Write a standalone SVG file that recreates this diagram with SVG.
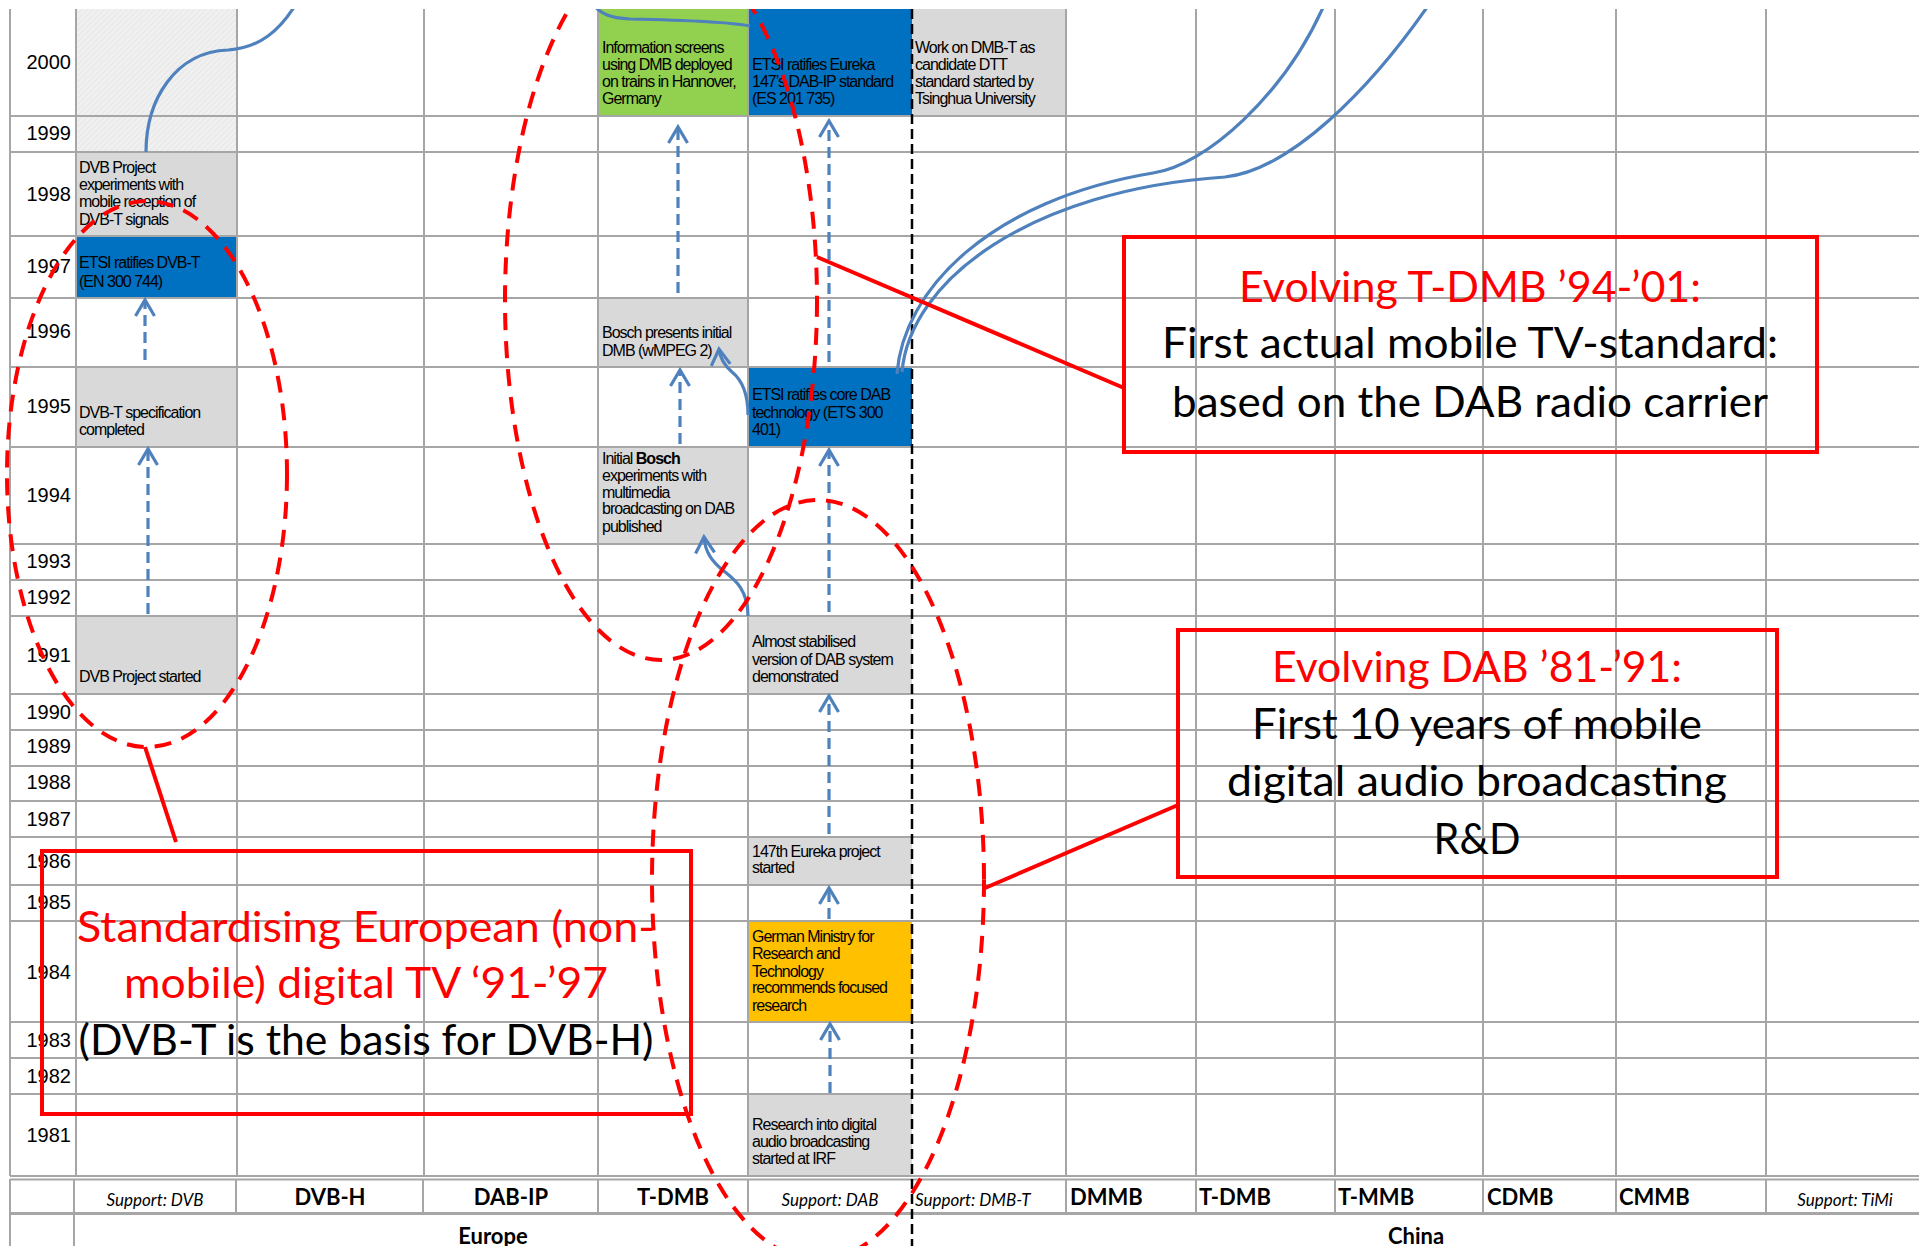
<svg xmlns="http://www.w3.org/2000/svg" width="1919" height="1246" viewBox="0 0 1919 1246">
<style>
.bg{fill:#ffffff}
.grid line{stroke:#a6a6a6;stroke-width:2}
.yr{font-family:"Liberation Sans",Arial,sans-serif;font-size:20px;fill:#000;text-anchor:end}
.nt{font-family:"Liberation Sans",Arial,sans-serif;font-size:16px;fill:#000;letter-spacing:-1px}
.gray{fill:#d9d9d9}
.blue{fill:#0070c0}
.green{fill:#92d050}
.orange{fill:#ffc000}
.hdr{font-family:Lato,"Open Sans",sans-serif;font-size:22px;font-weight:bold;fill:#000}
.sup{font-family:Lato,"Open Sans",sans-serif;font-size:17px;font-style:italic;fill:#000}
.conn{fill:none;stroke:#4f81bd;stroke-width:3.2}
.dash{stroke-dasharray:11 6}
.red{fill:none;stroke:#ff0000;stroke-width:4}
.reddash{fill:none;stroke:#ff0000;stroke-width:4;stroke-dasharray:17 11}
.big{font-family:Lato,"Open Sans",sans-serif;font-size:42px;text-anchor:middle}
.rt{fill:#ff0000}
.bt{fill:#000}
</style>
<defs>
<marker id="chev" markerUnits="userSpaceOnUse" markerWidth="40" markerHeight="40" viewBox="-20 -20 40 40" refX="0" refY="0" orient="auto" overflow="visible">
<path d="M-16,-9.5 L0,0 L-16,9.5" fill="none" stroke="#4f81bd" stroke-width="3.2"/>
</marker>
<pattern id="hatch" width="4" height="4" patternUnits="userSpaceOnUse" patternTransform="rotate(45)">
<rect width="4" height="4" fill="#f0f0f0"/>
<line x1="0" y1="0" x2="0" y2="4" stroke="#e4e4e4" stroke-width="1.5"/>
</pattern>
<clipPath id="clipTop"><rect x="0" y="9" width="1919" height="1237"/></clipPath>
</defs>
<rect class="bg" x="0" y="0" width="1919" height="1246"/>

<g id="cells">
<rect x="76" y="9" width="161" height="143" fill="url(#hatch)"/>
<rect class="gray" x="76" y="152" width="161" height="84"/>
<rect class="blue" x="76" y="236" width="161" height="62"/>
<rect class="gray" x="76" y="367" width="161" height="80"/>
<rect class="gray" x="76" y="616" width="161" height="78"/>
<rect class="green" x="598" y="9" width="150" height="107"/>
<rect class="blue" x="748" y="9" width="164" height="107"/>
<rect class="gray" x="912" y="9" width="154" height="107"/>
<rect class="gray" x="598" y="298" width="150" height="69"/>
<rect class="blue" x="748" y="367" width="164" height="80"/>
<rect class="gray" x="598" y="447" width="150" height="97"/>
<rect class="gray" x="748" y="616" width="164" height="78"/>
<rect class="gray" x="748" y="837" width="164" height="48"/>
<rect class="orange" x="748" y="921" width="164" height="101"/>
<rect class="gray" x="748" y="1094" width="164" height="82"/>
</g>

<g id="grid" class="grid">
<line x1="10" y1="116" x2="1919" y2="116"/>
<line x1="10" y1="152" x2="1919" y2="152"/>
<line x1="10" y1="236" x2="1919" y2="236"/>
<line x1="10" y1="298" x2="1919" y2="298"/>
<line x1="10" y1="367" x2="1919" y2="367"/>
<line x1="10" y1="447" x2="1919" y2="447"/>
<line x1="10" y1="544" x2="1919" y2="544"/>
<line x1="10" y1="580" x2="1919" y2="580"/>
<line x1="10" y1="616" x2="1919" y2="616"/>
<line x1="10" y1="694" x2="1919" y2="694"/>
<line x1="10" y1="730" x2="1919" y2="730"/>
<line x1="10" y1="766" x2="1919" y2="766"/>
<line x1="10" y1="801" x2="1919" y2="801"/>
<line x1="10" y1="837" x2="1919" y2="837"/>
<line x1="10" y1="885" x2="1919" y2="885"/>
<line x1="10" y1="921" x2="1919" y2="921"/>
<line x1="10" y1="1022" x2="1919" y2="1022"/>
<line x1="10" y1="1058" x2="1919" y2="1058"/>
<line x1="10" y1="1094" x2="1919" y2="1094"/>
<line x1="10" y1="1176" x2="1919" y2="1176"/>
<line x1="10" y1="1179.5" x2="1919" y2="1179.5"/>
<line x1="10" y1="1213.5" x2="1919" y2="1213.5" style="stroke-width:3"/>
<line x1="10" y1="9" x2="10" y2="1176"/>
<line x1="76" y1="9" x2="76" y2="1176"/>
<line x1="237" y1="9" x2="237" y2="1176"/>
<line x1="424" y1="9" x2="424" y2="1176"/>
<line x1="598" y1="9" x2="598" y2="1176"/>
<line x1="748" y1="9" x2="748" y2="1176"/>
<line x1="1066" y1="9" x2="1066" y2="1176"/>
<line x1="1196" y1="9" x2="1196" y2="1176"/>
<line x1="1335" y1="9" x2="1335" y2="1176"/>
<line x1="1483" y1="9" x2="1483" y2="1176"/>
<line x1="1616" y1="9" x2="1616" y2="1176"/>
<line x1="1766" y1="9" x2="1766" y2="1176"/>
<line x1="10" y1="1179" x2="10" y2="1246"/>
<line x1="74" y1="1179" x2="74" y2="1246"/>
<line x1="236" y1="1179" x2="236" y2="1213"/>
<line x1="423" y1="1179" x2="423" y2="1213"/>
<line x1="598" y1="1179" x2="598" y2="1213"/>
<line x1="748" y1="1179" x2="748" y2="1213"/>
<line x1="1066" y1="1179" x2="1066" y2="1213"/>
<line x1="1196" y1="1179" x2="1196" y2="1213"/>
<line x1="1335" y1="1179" x2="1335" y2="1213"/>
<line x1="1483" y1="1179" x2="1483" y2="1213"/>
<line x1="1616" y1="1179" x2="1616" y2="1213"/>
<line x1="1766" y1="1179" x2="1766" y2="1213"/>
</g>
<line id="divider" x1="912" y1="9" x2="912" y2="1246" stroke="#000" stroke-width="2.5" stroke-dasharray="10 5"/>

<g id="years">
<text class="yr" x="71" y="69">2000</text>
<text class="yr" x="71" y="140">1999</text>
<text class="yr" x="71" y="201">1998</text>
<text class="yr" x="71" y="273">1997</text>
<text class="yr" x="71" y="338">1996</text>
<text class="yr" x="71" y="413">1995</text>
<text class="yr" x="71" y="502">1994</text>
<text class="yr" x="71" y="568">1993</text>
<text class="yr" x="71" y="604">1992</text>
<text class="yr" x="71" y="662">1991</text>
<text class="yr" x="71" y="719">1990</text>
<text class="yr" x="71" y="753">1989</text>
<text class="yr" x="71" y="789">1988</text>
<text class="yr" x="71" y="826">1987</text>
<text class="yr" x="71" y="868">1986</text>
<text class="yr" x="71" y="909">1985</text>
<text class="yr" x="71" y="979">1984</text>
<text class="yr" x="71" y="1047">1983</text>
<text class="yr" x="71" y="1083">1982</text>
<text class="yr" x="71" y="1142">1981</text>
</g>

<g id="headers">
<text class="sup" x="155" y="1206" text-anchor="middle">Support: DVB</text>
<text class="hdr" x="330" y="1205" text-anchor="middle">DVB-H</text>
<text class="hdr" x="511" y="1205" text-anchor="middle">DAB-IP</text>
<text class="hdr" x="673" y="1205" text-anchor="middle">T-DMB</text>
<text class="sup" x="830" y="1206" text-anchor="middle">Support: DAB</text>
<text class="sup" x="915" y="1206">Support: DMB-T</text>
<text class="hdr" x="1070" y="1205">DMMB</text>
<text class="hdr" x="1199" y="1205">T-DMB</text>
<text class="hdr" x="1338" y="1205">T-MMB</text>
<text class="hdr" x="1487" y="1205">CDMB</text>
<text class="hdr" x="1619" y="1205">CMMB</text>
<text class="sup" x="1845" y="1206" text-anchor="middle">Support: TiMi</text>
<text class="hdr" x="493" y="1244" text-anchor="middle">Europe</text>
<text class="hdr" x="1416" y="1244" text-anchor="middle">China</text>
</g>

<g id="n-dvb-mobile"><text class="nt" x="79" y="173">DVB Project</text><text class="nt" x="79" y="190">experiments with</text><text class="nt" x="79" y="207">mobile reception of</text><text class="nt" x="79" y="225">DVB-T signals</text></g>
<g id="n-etsi-dvbt"><text class="nt" x="79" y="268">ETSI ratifies DVB-T</text><text class="nt" x="79" y="287">(EN 300 744)</text></g>
<g id="n-dvbt-spec"><text class="nt" x="79" y="418">DVB-T specification</text><text class="nt" x="79" y="435">completed</text></g>
<g id="n-dvb-start"><text class="nt" x="79" y="682">DVB Project started</text></g>
<g id="n-info-screens"><text class="nt" x="602" y="53">Information screens</text><text class="nt" x="602" y="70">using DMB deployed</text><text class="nt" x="602" y="87">on trains in Hannover,</text><text class="nt" x="602" y="104">Germany</text></g>
<g id="n-etsi-dabip"><text class="nt" x="752" y="70">ETSI ratifies Eureka</text><text class="nt" x="752" y="87">147’s DAB-IP standard</text><text class="nt" x="752" y="104">(ES 201 735)</text></g>
<g id="n-dmbt-work"><text class="nt" x="915" y="53">Work on DMB-T as</text><text class="nt" x="915" y="70">candidate DTT</text><text class="nt" x="915" y="87">standard started by</text><text class="nt" x="915" y="104">Tsinghua University</text></g>
<g id="n-bosch-dmb"><text class="nt" x="602" y="338">Bosch presents initial</text><text class="nt" x="602" y="356">DMB (wMPEG 2)</text></g>
<g id="n-etsi-dab"><text class="nt" x="752" y="400">ETSI ratifies core DAB</text><text class="nt" x="752" y="418">technology (ETS 300</text><text class="nt" x="752" y="435">401)</text></g>
<g id="n-bosch-initial"><text class="nt" x="602" y="464">Initial <tspan font-weight="bold">Bosch</tspan></text><text class="nt" x="602" y="481">experiments with</text><text class="nt" x="602" y="498">multimedia</text><text class="nt" x="602" y="514">broadcasting on DAB</text><text class="nt" x="602" y="532">published</text></g>
<g id="n-dab-demo"><text class="nt" x="752" y="647">Almost stabilised</text><text class="nt" x="752" y="665">version of DAB system</text><text class="nt" x="752" y="682">demonstrated</text></g>
<g id="n-eureka"><text class="nt" x="752" y="857">147th Eureka project</text><text class="nt" x="752" y="873">started</text></g>
<g id="n-ministry"><text class="nt" x="752" y="942">German Ministry for</text><text class="nt" x="752" y="959">Research and</text><text class="nt" x="752" y="977">Technology</text><text class="nt" x="752" y="993">recommends focused</text><text class="nt" x="752" y="1011">research</text></g>
<g id="n-irf"><text class="nt" x="752" y="1130">Research into digital</text><text class="nt" x="752" y="1147">audio broadcasting</text><text class="nt" x="752" y="1164">started at IRF</text></g>

<g id="connectors" clip-path="url(#clipTop)">
<path class="conn dash" d="M145,360 V300" marker-end="url(#chev)"/>
<path class="conn dash" d="M148,614 V449" marker-end="url(#chev)"/>
<path class="conn dash" d="M678,293 V127" marker-end="url(#chev)"/>
<path class="conn dash" d="M680,444 V370" marker-end="url(#chev)"/>
<path class="conn dash" d="M829,362 V121" marker-end="url(#chev)"/>
<path class="conn dash" d="M829,612 V450" marker-end="url(#chev)"/>
<path class="conn dash" d="M829,834 V696" marker-end="url(#chev)"/>
<path class="conn dash" d="M829,919 V888" marker-end="url(#chev)"/>
<path class="conn dash" d="M830,1093 V1024" marker-end="url(#chev)"/>
<path class="conn" d="M146,152 C146,100 175,52 228,50 C260,48 280,30 296,4"/>
<path class="conn" d="M592,3 C600,14 610,18 630,19 C680,20 730,22 750,26"/>
<path class="conn" d="M748,616 C748,590 735,580 725,572 C712,562 705,552 704,537" marker-end="url(#chev)"/>
<path class="conn" d="M748,415 C748,395 742,380 732,372 C724,365 720,358 719,349" marker-end="url(#chev)"/>
<path class="conn" d="M897,374 C903,290 990,200 1153,173 C1205,166 1285,95 1325,3"/>
<path class="conn" d="M902,372 C910,280 1030,190 1225,177 C1290,170 1370,90 1430,3"/>
</g>

<g id="anno-dvb" clip-path="url(#clipTop)">
<ellipse class="reddash" cx="147" cy="474" rx="140" ry="273"/>
<line class="red" x1="145" y1="747" x2="176" y2="842"/>
<rect class="red" x="42" y="851" width="649" height="263"/>
<text class="big rt" x="366" y="942" textLength="578" lengthAdjust="spacingAndGlyphs">Standardising European (non-</text>
<text class="big rt" x="366" y="998" textLength="484" lengthAdjust="spacingAndGlyphs">mobile) digital TV ‘91-’97</text>
<text class="big bt" x="366" y="1055" textLength="575" lengthAdjust="spacingAndGlyphs">(DVB-T is the basis for DVB-H)</text>
</g>

<g id="anno-tdmb" clip-path="url(#clipTop)">
<ellipse class="reddash" cx="661" cy="300" rx="156" ry="360"/>
<line class="red" x1="817" y1="257" x2="1124" y2="388"/>
<rect class="red" x="1124" y="237" width="693" height="215"/>
<text class="big rt" x="1470" y="302" textLength="462" lengthAdjust="spacingAndGlyphs">Evolving T-DMB ’94-’01:</text>
<text class="big bt" x="1470" y="358" textLength="616" lengthAdjust="spacingAndGlyphs">First actual mobile TV-standard:</text>
<text class="big bt" x="1470" y="417" textLength="596" lengthAdjust="spacingAndGlyphs">based on the DAB radio carrier</text>
</g>

<g id="anno-dab" clip-path="url(#clipTop)">
<ellipse class="reddash" cx="818" cy="880" rx="166" ry="380"/>
<line class="red" x1="985" y1="888" x2="1178" y2="805"/>
<rect class="red" x="1178" y="630" width="599" height="247"/>
<text class="big rt" x="1477" y="682" textLength="410" lengthAdjust="spacingAndGlyphs">Evolving DAB ’81-’91:</text>
<text class="big bt" x="1477" y="739" textLength="450" lengthAdjust="spacingAndGlyphs">First 10 years of mobile</text>
<text class="big bt" x="1477" y="796" textLength="500" lengthAdjust="spacingAndGlyphs">digital audio broadcasting</text>
<text class="big bt" x="1477" y="854" textLength="87" lengthAdjust="spacingAndGlyphs">R&amp;D</text>
</g>
</svg>
